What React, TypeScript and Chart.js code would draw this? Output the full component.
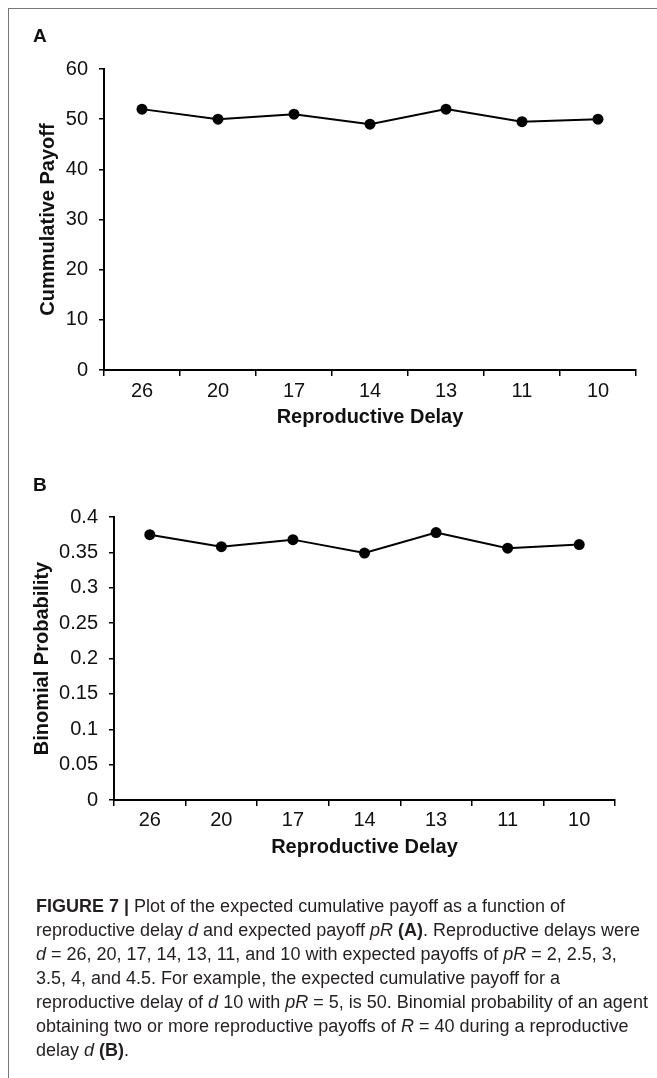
import React, { useEffect, useRef } from "react";
import { Chart, registerables } from "chart.js";

Chart.register(...registerables);

// ---- data ----
const delays = ["26", "20", "17", "14", "13", "11", "10"];
const cumulativePayoff = [52, 50, 51, 49, 52, 49.5, 50];
const binomialProbability = [0.375, 0.358, 0.368, 0.349, 0.378, 0.356, 0.361];
const payoffTicks = [0, 10, 20, 30, 40, 50, 60];
const probabilityTicks = ["0", "0.05", "0.1", "0.15", "0.2", "0.25", "0.3", "0.35", "0.4"];

const FONT = "'Liberation Sans', Arial, Helvetica, sans-serif";

type Geo = {
  width: number;
  height: number;
  padTop: number;
  padRight: number;
  yWidth: number;
  yTitlePad: number;
  yTickPad: number;
  xHeight: number;
  xTickPad: number;
  xTitlePad: number;
};

function makeConfig(
  values: number[],
  yMin: number,
  yMax: number,
  step: number,
  yLabels: string[],
  yTitle: string,
  g: Geo
): any {
  return {
    type: "line",
    data: {
      labels: delays,
      datasets: [
        {
          data: values,
          borderColor: "#000",
          backgroundColor: "#000",
          borderWidth: 2,
          pointRadius: 5.5,
          pointBorderWidth: 0,
          pointBackgroundColor: "#000",
          tension: 0,
          clip: false,
        },
      ],
    },
    options: {
      animation: false,
      responsive: false,
      maintainAspectRatio: false,
      events: [],
      layout: { padding: { top: g.padTop, right: g.padRight, bottom: 0, left: 0 } },
      plugins: { legend: { display: false }, tooltip: { enabled: false } },
      scales: {
        x: {
          type: "category",
          offset: true,
          grid: {
            display: true,
            offset: true,
            drawOnChartArea: false,
            drawTicks: true,
            tickLength: 6,
            color: "#000",
            lineWidth: 1.5,
          },
          border: { display: true, color: "#000", width: 2 },
          ticks: {
            color: "#111",
            font: { family: FONT, size: 20 },
            padding: g.xTickPad,
            maxRotation: 0,
            autoSkip: false,
          },
          title: {
            display: true,
            text: "Reproductive Delay",
            color: "#111",
            font: { family: FONT, size: 20, weight: "bold" },
            padding: { top: 0, bottom: g.xTitlePad },
          },
          afterFit: (s: any) => {
            s.height = g.xHeight;
          },
        },
        y: {
          type: "linear",
          min: yMin,
          max: yMax,
          grid: {
            display: true,
            drawOnChartArea: false,
            drawTicks: true,
            tickLength: 5,
            color: "#000",
            lineWidth: 1.5,
          },
          border: { display: true, color: "#000", width: 2 },
          ticks: {
            stepSize: step,
            color: "#111",
            font: { family: FONT, size: 20 },
            padding: g.yTickPad,
            callback: (_v: any, i: number) => yLabels[i],
          },
          title: {
            display: true,
            text: yTitle,
            color: "#111",
            font: { family: FONT, size: 20, weight: "bold" },
            padding: { top: g.yTitlePad, bottom: 0 },
          },
          afterFit: (s: any) => {
            s.width = g.yWidth;
          },
        },
      },
    },
  };
}

function LineChart(props: { cfg: any; width: number; height: number; style: React.CSSProperties }) {
  const ref = useRef<HTMLCanvasElement | null>(null);
  useEffect(() => {
    if (!ref.current) return;
    const chart = new Chart(ref.current, props.cfg);
    return () => chart.destroy();
  }, []);
  return (
    <canvas
      ref={ref}
      width={props.width}
      height={props.height}
      style={{ position: "absolute", width: props.width, height: props.height, ...props.style }}
    />
  );
}

const geoA: Geo = {
  width: 649,
  height: 410,
  padTop: 39,
  padRight: 21,
  yWidth: 96,
  yTitlePad: 28,
  yTickPad: 11,
  xHeight: 70,
  xTickPad: 3,
  xTitlePad: 11,
};

const geoB: Geo = {
  width: 649,
  height: 410,
  padTop: 47,
  padRight: 42,
  yWidth: 106,
  yTitlePad: 22,
  yTickPad: 11,
  xHeight: 80,
  xTickPad: 2,
  xTitlePad: 21,
};

const payoffLabels = payoffTicks.map((v) => String(v));

export default function App() {
  const cfgA = makeConfig(cumulativePayoff, 0, 60, 10, payoffLabels, "Cummulative Payoff", geoA);
  const cfgB = makeConfig(binomialProbability, 0, 0.4, 0.05, probabilityTicks, "Binomial Probability", geoB);

  const panelLabel: React.CSSProperties = {
    position: "absolute",
    left: 25,
    fontFamily: FONT,
    fontWeight: "bold",
    fontSize: 19,
    lineHeight: "19px",
    color: "#111",
  };

  return (
    <div style={{ position: "relative", height: 1060, fontFamily: FONT }}>
      <div
        style={{
          position: "fixed",
          left: 8,
          top: 8,
          width: 900,
          height: 1200,
          borderTop: "1px solid #777",
          borderLeft: "1px solid #777",
          pointerEvents: "none",
        }}
      />
      <div style={{ ...panelLabel, top: 18 }}>A</div>
      <LineChart cfg={cfgA} width={geoA.width} height={geoA.height} style={{ left: 0, top: 22 }} />
      <div style={{ ...panelLabel, top: 467 }}>B</div>
      <LineChart cfg={cfgB} width={geoB.width} height={geoB.height} style={{ left: 0, top: 462 }} />
      <div
        style={{
          position: "absolute",
          left: 28,
          top: 886,
          fontSize: 18,
          lineHeight: "24px",
          color: "#231f20",
          whiteSpace: "nowrap",
        }}
      >
        <div>
          <b>FIGURE 7 |</b> Plot of the expected cumulative payoff as a function of
        </div>
        <div>
          reproductive delay <i>d</i> and expected payoff <i>pR</i> <b>(A)</b>. Reproductive delays were
        </div>
        <div>
          <i>d</i> = 26, 20, 17, 14, 13, 11, and 10 with expected payoffs of <i>pR</i> = 2, 2.5, 3,
        </div>
        <div>3.5, 4, and 4.5. For example, the expected cumulative payoff for a</div>
        <div>
          reproductive delay of <i>d</i> 10 with <i>pR</i> = 5, is 50. Binomial probability of an agent
        </div>
        <div>
          obtaining two or more reproductive payoffs of <i>R</i> = 40 during a reproductive
        </div>
        <div>
          delay <i>d</i> <b>(B)</b>.
        </div>
      </div>
    </div>
  );
}
